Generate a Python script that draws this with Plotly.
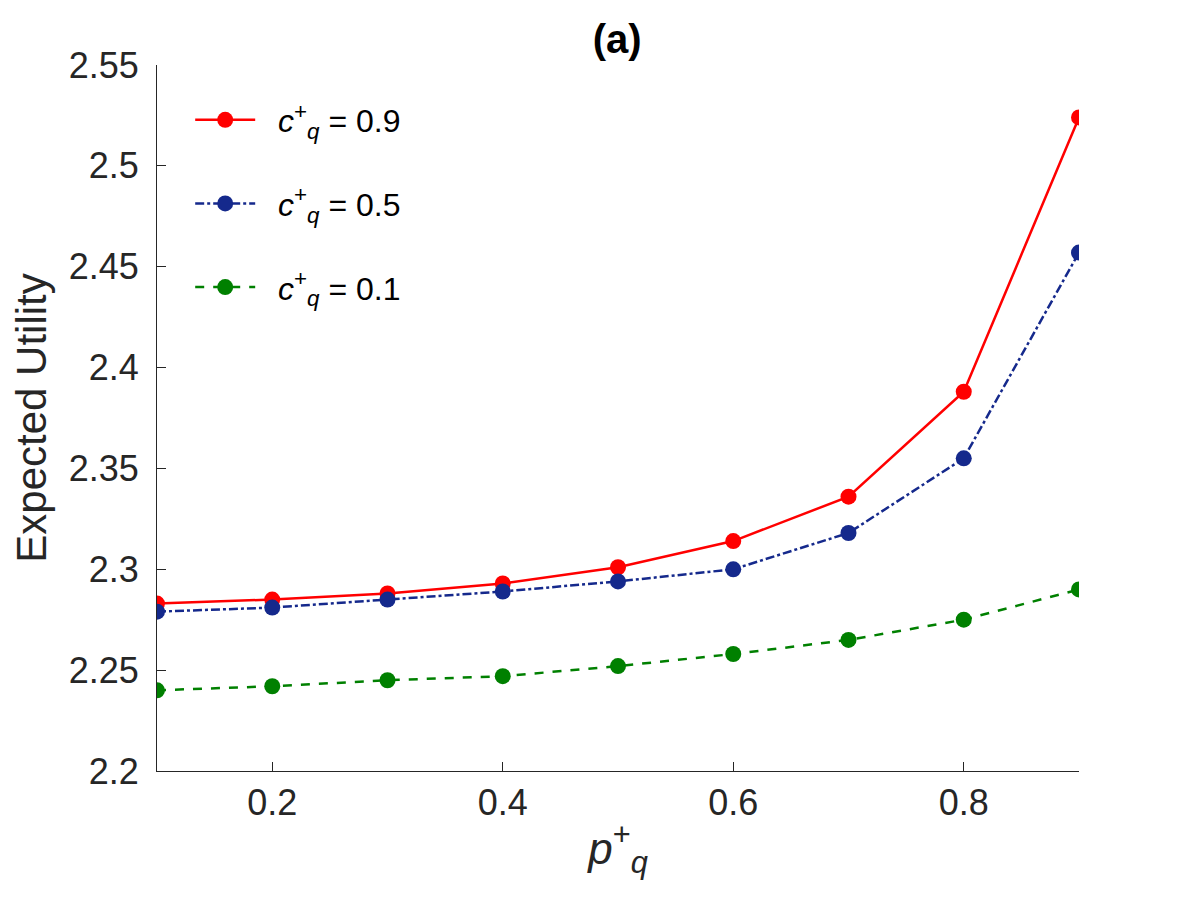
import plotly.graph_objects as go

# p_q^+ values on the x axis
p_q = [0.1, 0.2, 0.3, 0.4, 0.5, 0.6, 0.7, 0.8, 0.9]

# expected utility for each c_q^+
eu_c09 = [2.283, 2.285, 2.288, 2.293, 2.301, 2.314, 2.336, 2.388, 2.524]
eu_c05 = [2.279, 2.281, 2.285, 2.289, 2.294, 2.300, 2.318, 2.355, 2.457]
eu_c01 = [2.240, 2.242, 2.245, 2.247, 2.252, 2.258, 2.265, 2.275, 2.290]

x_ticks = [0.2, 0.4, 0.6, 0.8]
y_ticks = [2.2, 2.25, 2.3, 2.35, 2.4, 2.45, 2.5, 2.55]

font_name = "Liberation Sans, Arial, Helvetica, sans-serif"
axis_col = "#262626"

series = [
    ("0.9", eu_c09, "#FF0000", "solid"),
    ("0.5", eu_c05, "#15298C", "dashdot"),
    ("0.1", eu_c01, "#008000", "dash"),
]

fig = go.Figure()
for i, (c, vals, col, dash) in enumerate(series):
    fig.add_trace(go.Scatter(
        x=p_q, y=vals, mode="lines+markers",
        name=f"&nbsp;&nbsp;<i>c</i><sup>+</sup><sub><i>q</i></sub> = {c}",
        legendgroup=f"g{i}",
        line=dict(color=col, width=2.5, dash=dash),
        marker=dict(color=col, size=16, symbol="circle"),
    ))

# page body adds ~8px offset, so margins are trimmed a bit
fig.update_layout(
    width=1192, height=908,
    paper_bgcolor="white", plot_bgcolor="white",
    margin=dict(l=149, r=121, t=57, b=145),
    font=dict(family=font_name, color=axis_col),
    title=dict(text="<b>(a)</b>", x=0.511, xanchor="center", y=0.966, yanchor="middle",
               font=dict(size=40, color="black")),
    legend=dict(x=0.036, y=0.961, xanchor="left", yanchor="top",
                font=dict(size=32, color="black"), tracegroupgap=39,
                bgcolor="rgba(0,0,0,0)", itemwidth=60),
    showlegend=True,
)

fig.update_xaxes(
    range=[0.1, 0.9], tickvals=x_ticks, ticks="inside", ticklen=9,
    tickcolor=axis_col, showline=True, linecolor=axis_col, linewidth=1,
    showgrid=False, zeroline=False, tickfont=dict(size=36, color=axis_col),
    automargin=False,
    title=dict(text="<i>p</i><sup>+</sup><sub><i>q</i></sub>", font=dict(size=44, color=axis_col),
               standoff=10),
)
fig.update_yaxes(
    range=[2.2, 2.55], tickvals=y_ticks, ticks="inside", ticklen=9,
    tickcolor=axis_col, showline=True, linecolor=axis_col, linewidth=1,
    showgrid=False, zeroline=False, tickfont=dict(size=36, color=axis_col),
    ticklabelstandoff=10, automargin=False,
    title=dict(text="Expected Utility", font=dict(size=42, color=axis_col), standoff=12),
)

fig.write_html("out.html")
